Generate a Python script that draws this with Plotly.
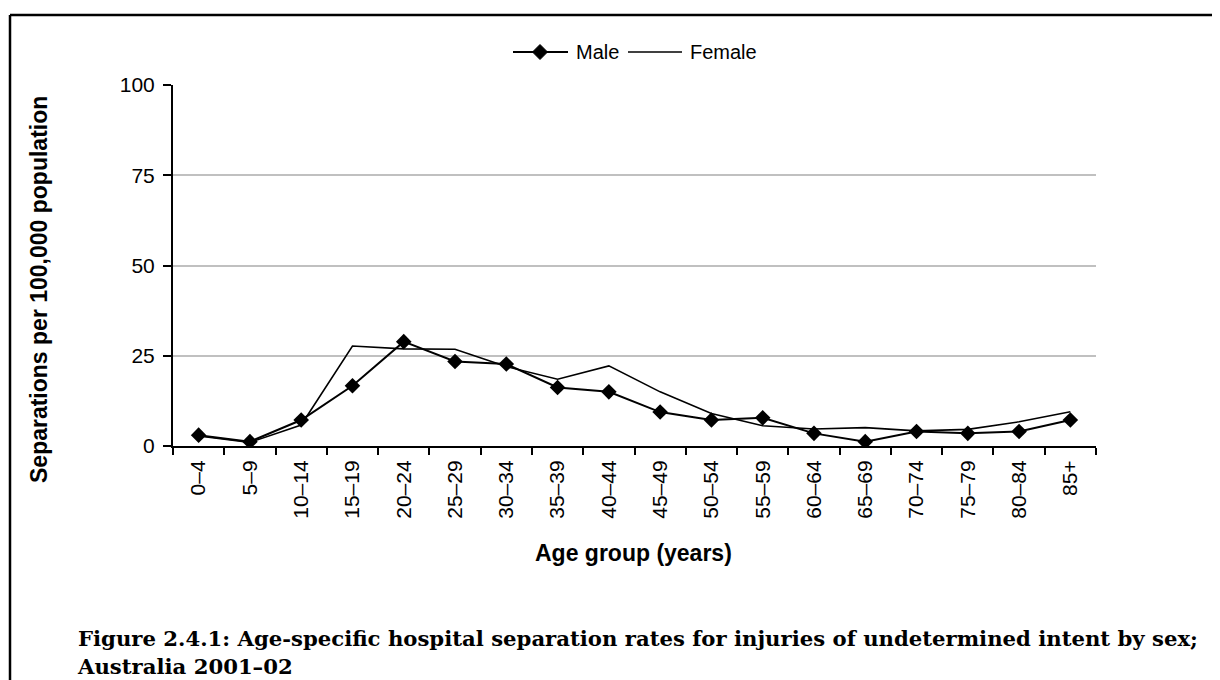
import plotly.graph_objects as go

age_groups = ["0–4", "5–9", "10–14", "15–19", "20–24", "25–29", "30–34", "35–39", "40–44",
              "45–49", "50–54", "55–59", "60–64", "65–69", "70–74", "75–79", "80–84", "85+"]
male = [3.0, 1.2, 7.2, 16.7, 28.9, 23.4, 22.7, 16.2, 15.0,
        9.4, 7.2, 7.8, 3.5, 1.2, 4.0, 3.5, 4.0, 7.2]
female = [2.8, 1.0, 5.8, 27.7, 26.9, 26.8, 22.0, 18.5, 22.2,
          15.0, 9.0, 5.6, 4.7, 5.1, 4.2, 4.6, 6.7, 9.5]
y_ticks = [0, 25, 50, 75, 100]

x_title = "Age group (years)"
y_title = "Separations per 100,000 population"
caption = ("Figure 2.4.1: Age-specific hospital separation rates for injuries of undetermined intent by sex;"
           "<br>Australia 2001–02")

fig = go.Figure()
fig.add_trace(go.Scatter(
    x=age_groups, y=male, name="Male", mode="lines+markers",
    line=dict(color="black", width=2),
    marker=dict(symbol="diamond", size=12, color="black"),
))
fig.add_trace(go.Scatter(
    x=age_groups, y=female, name="Female", mode="lines",
    line=dict(color="black", width=1.6),
))

# page has an 8px body margin, so the figure is a bit smaller than the window
OFF = 8
W, H = 1212, 672
L, T = 165, 77
pw, ph = 923, 361
R, B = W - L - pw, H - T - ph

def px(x):
    # page x -> paper x
    return (x - OFF - L) / pw

def py(y):
    # page y -> paper y
    return (H - B - (y - OFF)) / ph

# legend drawn by hand: plotly's legend samples are too short
leg_y = 52
d = 7.5
diamond = (f"M {px(540 - d)} {py(leg_y)} L {px(540)} {py(leg_y - d)} "
           f"L {px(540 + d)} {py(leg_y)} L {px(540)} {py(leg_y + d)} Z")

fig.update_layout(
    width=W, height=H,
    margin=dict(l=L, r=R, t=T, b=B),
    paper_bgcolor="white", plot_bgcolor="white",
    font=dict(family="Liberation Sans, Arial, sans-serif", color="black", size=21),
    showlegend=False,
    xaxis=dict(
        type="category", showgrid=False, showline=True, linecolor="black", linewidth=2,
        ticks="outside", tickson="boundaries", ticklen=7, tickcolor="black", tickwidth=2,
        tickangle=-90, tickfont=dict(size=21), ticklabelstandoff=4,
        range=[-0.5, len(age_groups) - 0.5],
    ),
    yaxis=dict(
        range=[0, 100], tickvals=y_ticks, showgrid=True, gridcolor="#c0c0c0", gridwidth=2,
        showline=True, linecolor="black", linewidth=2, zeroline=False,
        ticks="outside", ticklen=8, tickcolor="black", tickwidth=2, tickfont=dict(size=21),
        ticklabelstandoff=4,
    ),
    shapes=[
        dict(type="line", xref="paper", yref="paper", x0=px(10), x1=px(1225), y0=py(15), y1=py(15),
             line=dict(color="black", width=2.5)),
        dict(type="line", xref="paper", yref="paper", x0=px(10), x1=px(10), y0=py(15), y1=py(690),
             line=dict(color="black", width=2.5)),
        dict(type="line", xref="paper", yref="paper", x0=px(513), x1=px(568), y0=py(leg_y), y1=py(leg_y),
             line=dict(color="black", width=2)),
        dict(type="path", xref="paper", yref="paper", path=diamond,
             fillcolor="black", line=dict(color="black", width=1)),
        dict(type="line", xref="paper", yref="paper", x0=px(628), x1=px(682), y0=py(leg_y), y1=py(leg_y),
             line=dict(color="black", width=1.6)),
    ],
    annotations=[
        dict(text="Male", xref="paper", yref="paper", x=px(574), y=py(leg_y),
             xanchor="left", yanchor="middle", showarrow=False, font=dict(size=20)),
        dict(text="Female", xref="paper", yref="paper", x=px(688), y=py(leg_y),
             xanchor="left", yanchor="middle", showarrow=False, font=dict(size=20)),
        dict(text="<b>" + x_title + "</b>", xref="paper", yref="paper", x=px(633), y=py(553),
             xanchor="center", yanchor="middle", showarrow=False, font=dict(size=23)),
        dict(text="<b>" + y_title + "</b>", xref="paper", yref="paper", x=px(39), y=py(290),
             xanchor="center", yanchor="middle", textangle=-90, showarrow=False,
             font=dict(size=23)),
        dict(text="<b>" + caption + "</b>", xref="paper", yref="paper", x=px(75), y=py(652),
             xanchor="left", yanchor="middle", align="left", showarrow=False,
             font=dict(family="DejaVu Serif, serif", size=21.2, color="black")),
    ],
)

fig.write_html("out.html")
